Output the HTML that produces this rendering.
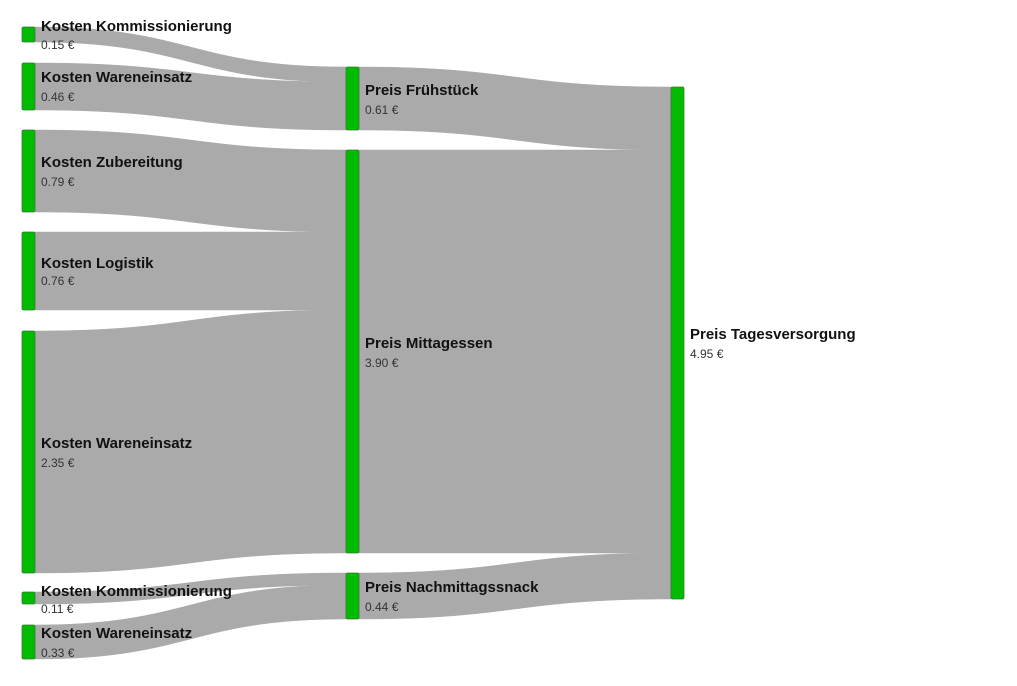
<!DOCTYPE html>
<html><head><meta charset="utf-8"><style>
html,body{margin:0;padding:0;background:#fff;}
svg{display:block;}
.t{font-family:"Liberation Sans",sans-serif;font-weight:bold;font-size:15px;fill:#111;}
.v{font-family:"Liberation Sans",sans-serif;font-size:12px;fill:#333;}
</style></head><body>
<svg width="1017" height="686" viewBox="0 0 1017 686" xmlns="http://www.w3.org/2000/svg">
<g fill="#aaaaaa" stroke="#aaaaaa" stroke-width="0.5">
<!-- left -> middle, x 35 -> 346, mid 190.5 -->
<path d="M35,27 C190.5,27 190.5,67 346,67 L346,82 C190.5,82 190.5,42 35,42 Z"/>
<path d="M35,63 C190.5,63 190.5,82 346,82 L346,130 C190.5,130 190.5,110 35,110 Z"/>
<path d="M35,130 C190.5,130 190.5,150 346,150 L346,232 C190.5,232 190.5,212 35,212 Z"/>
<path d="M35,232 L346,232 L346,310 L35,310 Z"/>
<path d="M35,331 C190.5,331 190.5,310 346,310 L346,553 C190.5,553 190.5,573 35,573 Z"/>
<path d="M35,592 C190.5,592 190.5,573 346,573 L346,585 C190.5,585 190.5,604 35,604 Z"/>
<path d="M35,625 C190.5,625 190.5,585 346,585 L346,619 C190.5,619 190.5,659 35,659 Z"/>
<!-- middle -> right, x 359 -> 671, mid 515 -->
<path d="M359,67 C515,67 515,87 671,87 L671,150 C515,150 515,130 359,130 Z"/>
<path d="M359,150 L671,150 L671,553 L359,553 Z"/>
<path d="M359,573 C515,573 515,553 671,553 L671,599 C515,599 515,619 359,619 Z"/>
</g>
<g fill="#00bb00" stroke="#3a7a3a" stroke-width="0.8">
<rect x="22" y="27" width="13" height="15" rx="1.5"/>
<rect x="22" y="63" width="13" height="47" rx="1.5"/>
<rect x="22" y="130" width="13" height="82" rx="1.5"/>
<rect x="22" y="232" width="13" height="78" rx="1.5"/>
<rect x="22" y="331" width="13" height="242" rx="1.5"/>
<rect x="22" y="592" width="13" height="12" rx="1.5"/>
<rect x="22" y="625" width="13" height="34" rx="1.5"/>
<rect x="346" y="67" width="13" height="63" rx="1.5"/>
<rect x="346" y="150" width="13" height="403" rx="1.5"/>
<rect x="346" y="573" width="13" height="46" rx="1.5"/>
<rect x="671" y="87" width="13" height="512" rx="1.5"/>
</g>
<g>
<text class="t" x="41" y="31">Kosten Kommissionierung</text><text class="v" x="41" y="49">0.15 €</text>
<text class="t" x="41" y="82">Kosten Wareneinsatz</text><text class="v" x="41" y="101">0.46 €</text>
<text class="t" x="41" y="167">Kosten Zubereitung</text><text class="v" x="41" y="186">0.79 €</text>
<text class="t" x="41" y="268">Kosten Logistik</text><text class="v" x="41" y="285">0.76 €</text>
<text class="t" x="41" y="448">Kosten Wareneinsatz</text><text class="v" x="41" y="467">2.35 €</text>
<text class="t" x="41" y="596">Kosten Kommissionierung</text><text class="v" x="41" y="613">0.11 €</text>
<text class="t" x="41" y="638">Kosten Wareneinsatz</text><text class="v" x="41" y="657">0.33 €</text>
<text class="t" x="365" y="95">Preis Frühstück</text><text class="v" x="365" y="114">0.61 €</text>
<text class="t" x="365" y="348">Preis Mittagessen</text><text class="v" x="365" y="367">3.90 €</text>
<text class="t" x="365" y="592">Preis Nachmittagssnack</text><text class="v" x="365" y="611">0.44 €</text>
<text class="t" x="690" y="339">Preis Tagesversorgung</text><text class="v" x="690" y="358">4.95 €</text>
</g>
</svg>
</body></html>
